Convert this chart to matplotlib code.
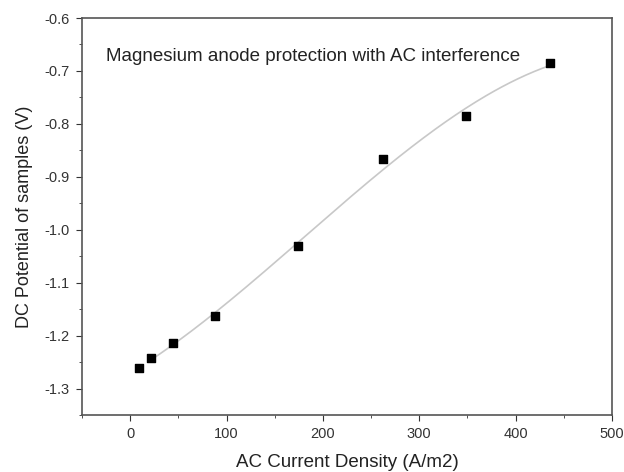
import numpy as np
import matplotlib.pyplot as plt
from matplotlib.ticker import MultipleLocator

plt.rcParams['font.family'] = ['Liberation Sans', 'DejaVu Sans']

# AC current density (A/m2) and DC potential (V)
current = [9, 22, 44, 88, 174, 262, 349, 436]
potential = [-1.262, -1.243, -1.214, -1.163, -1.031, -0.867, -0.786, -0.685]

# smooth fit through the points
coef = np.polyfit(current, potential, 3)
xs = np.linspace(20, 436, 200)
ys = np.polyval(coef, xs)

fig = plt.figure(figsize=(6.24, 4.72), dpi=100)
ax = fig.add_axes([82 / 624, 57 / 472, 530 / 624, 397 / 472])

ax.plot(xs, ys, color="#c8c8c8", lw=1.2, zorder=1)
ax.scatter(current, potential, marker="s", s=28, color="black", zorder=2)

ax.set_xlim(-50, 500)
ax.set_ylim(-1.35, -0.6)
ax.xaxis.set_major_locator(MultipleLocator(100))
ax.xaxis.set_minor_locator(MultipleLocator(50))
ax.yaxis.set_major_locator(MultipleLocator(0.1))
ax.yaxis.set_minor_locator(MultipleLocator(0.05))
ax.xaxis.set_major_formatter(plt.FuncFormatter(lambda v, p: "%d" % v))
ax.yaxis.set_major_formatter(plt.FuncFormatter(lambda v, p: "%.1f" % v))

ax.tick_params(which="both", direction="out", top=False, right=False,
               labelsize=10.5, colors="#333333")
ax.tick_params(which="major", length=4, pad=5)
ax.tick_params(which="minor", length=2.5)
for s in ax.spines.values():
    s.set_color("#555555")
    s.set_linewidth(1.2)

ax.set_xlabel("AC Current Density (A/m2)", fontsize=13.5, color="#222222", labelpad=9)
ax.set_ylabel("DC Potential of samples (V)", fontsize=13, color="#222222", labelpad=8)

ax.text(-25, -0.672, "Magnesium anode protection with AC interference",
        fontsize=13.5, color="#222222", va="center")

fig.savefig("out.png", dpi=100)
